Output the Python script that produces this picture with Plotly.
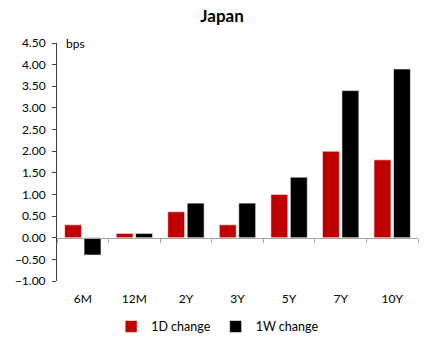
import plotly.graph_objects as go

categories = ["6M", "12M", "2Y", "3Y", "5Y", "7Y", "10Y"]
change_1d = [0.3, 0.1, 0.6, 0.3, 1.0, 2.0, 1.8]
change_1w = [-0.4, 0.1, 0.8, 0.8, 1.4, 3.4, 3.9]
y_ticks = [-1.0, -0.5, 0.0, 0.5, 1.0, 1.5, 2.0, 2.5, 3.0, 3.5, 4.0, 4.5]

FONT = "Lato, Open Sans, sans-serif"
ymin, ymax = -1.0, 4.5

fig = go.Figure()
fig.add_trace(go.Bar(x=categories, y=change_1d, name="1D change",
                     marker=dict(color="#C00000", line=dict(color="white", width=0.6))))
fig.add_trace(go.Bar(x=categories, y=change_1w, name="1W change",
                     marker=dict(color="#000000", line=dict(color="white", width=0.6))))
# helper axis carrying the zero line with boundary ticks
fig.add_trace(go.Scatter(x=[-0.5, len(categories) - 0.5], y=[None, None], xaxis="x2",
                         showlegend=False, hoverinfo="skip", mode="lines"))

zero_frac = (0 - ymin) / (ymax - ymin)

fig.update_layout(
    width=427, height=338,
    margin=dict(l=57, r=9, t=43, b=57, autoexpand=False),
    paper_bgcolor="white", plot_bgcolor="white",
    font=dict(family=FONT, size=12, color="#000000"),
    title=dict(text="<b>Japan</b>", x=0.52, xanchor="center", y=0.952, yanchor="middle",
               font=dict(family=FONT, size=17, color="#000000")),
    barmode="group", bargap=0.245, bargroupgap=0.13,
    xaxis=dict(type="category", categoryarray=categories, showline=False, ticks="",
               showgrid=False, zeroline=False, tickfont=dict(size=12), ticklabelstandoff=9),
    xaxis2=dict(overlaying="x", anchor="free", position=zero_frac, range=[-0.5, len(categories) - 0.5],
                tickvals=[i - 0.5 for i in range(len(categories) + 1)], showticklabels=False,
                ticks="outside", ticklen=4, tickcolor="#A6A6A6", showline=True,
                linecolor="#A6A6A6", linewidth=1, showgrid=False, zeroline=False),
    yaxis=dict(range=[ymin, ymax], tickvals=y_ticks, tickformat=".2f", showgrid=False,
               zeroline=False, showline=True, linecolor="#404040", linewidth=1,
               ticks="outside", ticklen=4, tickcolor="#404040", tickfont=dict(size=12),
               ticklabelstandoff=4),
    legend=dict(orientation="h", x=0.445, xanchor="center", yref="container", y=0.033,
                yanchor="middle", font=dict(size=12.5), itemwidth=30),
    annotations=[dict(text="bps", xref="paper", yref="paper", x=0.02, y=1.0,
                      xanchor="left", yanchor="middle", showarrow=False,
                      font=dict(family=FONT, size=12))],
)

fig.write_html("out.html")
